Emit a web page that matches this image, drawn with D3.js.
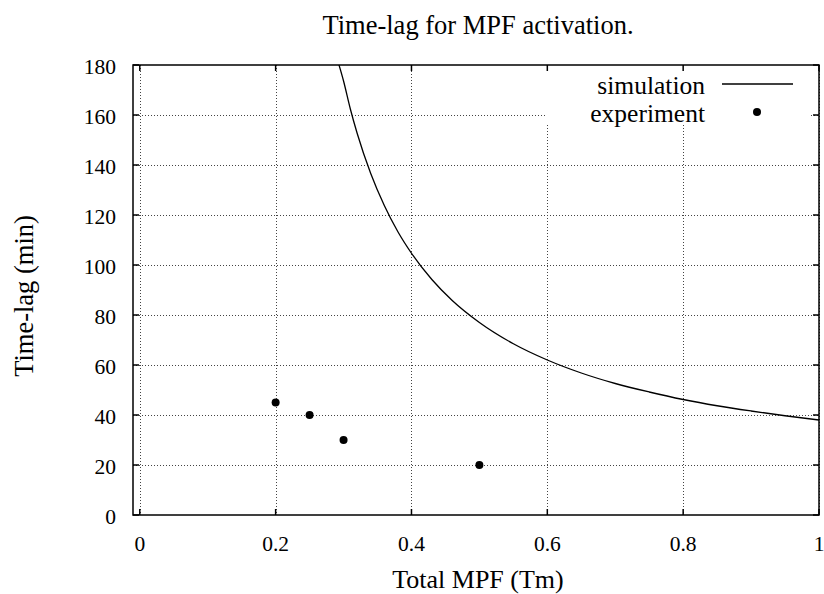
<!DOCTYPE html>
<html>
<head>
<meta charset="utf-8">
<script src="https://cdn.jsdelivr.net/npm/d3@7"></script>
<style>
  body { margin: 0; background: #fff; }
  text { font-family: "Liberation Serif", "DejaVu Serif", serif; fill: #000; }
</style>
</head>
<body>
<div id="chart"></div>
<script>
// simulation curve
const simX = [0.29, 0.30, 0.31, 0.32, 0.34, 0.36, 0.38, 0.40, 0.43, 0.46, 0.50,
              0.55, 0.60, 0.65, 0.70, 0.75, 0.80, 0.85, 0.90, 0.95, 1.00];
const simY = [183, 173.6, 162.4, 152.7, 136.6, 123.8, 113.3, 104.7, 94.2, 85.8, 77.0,
              68.5, 62.0, 56.8, 52.6, 49.2, 46.2, 43.7, 41.6, 39.7, 38.0];
// experiment points
const expX = [0.2, 0.25, 0.3, 0.5];
const expY = [45, 40, 30, 20];

const xTicks = [0, 0.2, 0.4, 0.6, 0.8, 1];
const yTicks = [0, 20, 40, 60, 80, 100, 120, 140, 160, 180];
const legendNames = ["simulation", "experiment"];

window.addEventListener('load', drawChart);

function drawChart(){
  let width = 824, height = 594;
  let left = 133, right = 819, top = 65, bottom = 515;

  let x = d3.scaleLinear().domain([-0.01, 1]).range([left, right]);
  let y = d3.scaleLinear().domain([0, 180]).range([bottom, top]);

  const svg = d3.select("#chart")
    .append("svg")
      .attr("width", width)
      .attr("height", height);

  svg.append("defs").append("clipPath")
      .attr("id", "plotclip")
    .append("rect")
      .attr("x", left).attr("y", top)
      .attr("width", right - left).attr("height", bottom - top);

  // grid
  const grid = svg.append("g")
      .attr("stroke", "#444")
      .attr("stroke-width", 1)
      .attr("stroke-dasharray", "1,2");
  grid.selectAll("line.vx")
    .data(xTicks)
    .join("line")
      .attr("class", "vx")
      .attr("x1", d => Math.round(x(d)) + 0.5).attr("x2", d => Math.round(x(d)) + 0.5)
      .attr("y1", top).attr("y2", bottom);
  grid.selectAll("line.hy")
    .data(yTicks.filter(d => d > 0 && d < 180))
    .join("line")
      .attr("class", "hy")
      .attr("x1", left).attr("x2", right)
      .attr("y1", d => Math.round(y(d)) + 0.5).attr("y2", d => Math.round(y(d)) + 0.5);

  // legend background hides the grid
  svg.append("rect")
      .attr("x", 545).attr("y", top + 1)
      .attr("width", 265).attr("height", 59)
      .attr("fill", "#fff");

  // simulation curve
  const line = d3.line()
      .x((d, i) => x(simX[i]))
      .y(d => y(d))
      .curve(d3.curveMonotoneX);
  svg.append("path")
      .datum(simY)
      .attr("clip-path", "url(#plotclip)")
      .attr("fill", "none")
      .attr("stroke", "#000")
      .attr("stroke-width", 1.3)
      .attr("d", line);

  // experiment
  svg.append("g")
    .selectAll("circle")
    .data(expY)
    .join("circle")
      .attr("cx", (d, i) => x(expX[i]))
      .attr("cy", d => y(d))
      .attr("r", 4)
      .attr("fill", "#000");

  // border and inward ticks
  svg.append("rect")
      .attr("x", left).attr("y", top)
      .attr("width", right - left).attr("height", bottom - top)
      .attr("fill", "none")
      .attr("stroke", "#000")
      .attr("stroke-width", 1.5);

  const ticks = svg.append("g").attr("stroke", "#000").attr("stroke-width", 1.5);
  xTicks.forEach(d => {
    ticks.append("line").attr("x1", x(d)).attr("x2", x(d)).attr("y1", bottom).attr("y2", bottom - 6);
    ticks.append("line").attr("x1", x(d)).attr("x2", x(d)).attr("y1", top).attr("y2", top + 6);
  });
  yTicks.forEach(d => {
    ticks.append("line").attr("x1", left).attr("x2", left + 6).attr("y1", y(d)).attr("y2", y(d));
    ticks.append("line").attr("x1", right).attr("x2", right - 6).attr("y1", y(d)).attr("y2", y(d));
  });

  // tick labels
  svg.append("g")
    .selectAll("text")
    .data(xTicks)
    .join("text")
      .attr("x", d => x(d))
      .attr("y", 551)
      .attr("text-anchor", "middle")
      .attr("font-size", 21.5)
      .text(d => d3.format("~g")(d));

  svg.append("g")
    .selectAll("text")
    .data(yTicks)
    .join("text")
      .attr("x", 116)
      .attr("y", d => y(d) + 9)
      .attr("text-anchor", "end")
      .attr("font-size", 21.5)
      .text(d => d);

  // title and axis labels
  svg.append("text")
      .attr("x", 478).attr("y", 33.5)
      .attr("text-anchor", "middle")
      .attr("font-size", 26.5)
      .text("Time-lag for MPF activation.");

  svg.append("text")
      .attr("x", 478).attr("y", 588)
      .attr("text-anchor", "middle")
      .attr("font-size", 26)
      .text("Total MPF (Tm)");

  svg.append("text")
      .attr("transform", "translate(33,296) rotate(-90)")
      .attr("text-anchor", "middle")
      .attr("font-size", 26.5)
      .text("Time-lag (min)");

  // legend
  const leg = svg.append("g");
  leg.selectAll("text")
    .data(legendNames)
    .join("text")
      .attr("x", 705)
      .attr("y", (d, i) => 94 + i * 28)
      .attr("text-anchor", "end")
      .attr("font-size", 25.5)
      .text(d => d);
  leg.append("line")
      .attr("x1", 722).attr("x2", 793)
      .attr("y1", 84).attr("y2", 84)
      .attr("stroke", "#000").attr("stroke-width", 1.3);
  leg.append("circle")
      .attr("cx", 757).attr("cy", 112).attr("r", 4)
      .attr("fill", "#000");
}
</script>
</body>
</html>
